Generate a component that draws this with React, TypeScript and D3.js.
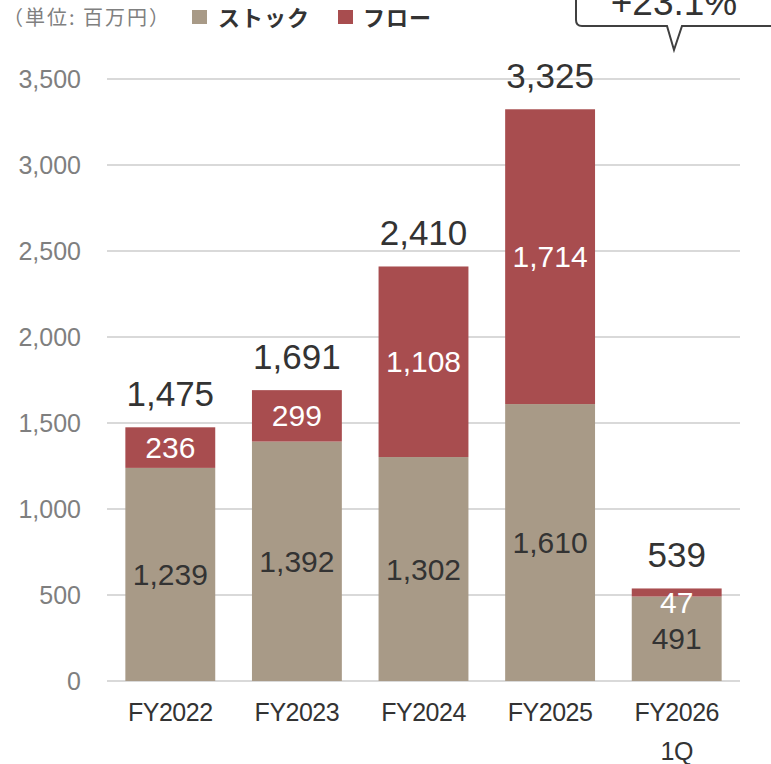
import React from "react";
import * as d3 from "d3";

const categories = ["FY2022", "FY2023", "FY2024", "FY2025", "FY2026\n1Q"];
const stockValues = [1239, 1392, 1302, 1610, 491];
const flowValues = [236, 299, 1108, 1714, 47];
const totalLabels = [1475, 1691, 2410, 3325, 539];
const yTicks = [0, 500, 1000, 1500, 2000, 2500, 3000, 3500];
const calloutText = "+23.1%";

const STOCK = "#A89A87";
const FLOW = "#A84D4F";
const NUM_FONT = "'Liberation Sans', Arial, sans-serif";
const JP_FONT = "'Noto Sans CJK JP', 'Noto Sans', sans-serif";

export default function App() {
  const W = 771, H = 764;
  const x = d3.scaleBand<string>().domain(categories).range([107, 740]).paddingInner(0.29).paddingOuter(0.145);
  const y = d3.scaleLinear().domain([0, 3500]).range([681, 79]);
  const fmt = d3.format(",");
  const bw = x.bandwidth();

  return (
    <svg width={W} height={H} style={{ position: "absolute", left: 0, top: 0, background: "#fff" }}>
      {/* callout */}
      <path
        d={`M576,-10 L576,20 Q576,26 582,26 L667,26 L674,50 L682,26 L780,26`}
        fill="#fff" stroke="#404040" strokeWidth={2} strokeLinejoin="miter"
      />
      <text x={674} y={15} textAnchor="middle" fontFamily={NUM_FONT} fontSize={37} fill="#333">{calloutText}</text>

      {/* legend */}
      <text x={3} y={25} fontFamily={JP_FONT} fontSize={20} fill="#808080" letterSpacing={2}>（単位: 百万円）</text>
      <rect x={192} y={10} width={15} height={14} fill={STOCK} />
      <text x={218} y={26} fontFamily={JP_FONT} fontSize={22} fontWeight="bold" fill="#333" letterSpacing={1}>ストック</text>
      <rect x={338} y={10} width={15} height={14} fill={FLOW} />
      <text x={363} y={26} fontFamily={JP_FONT} fontSize={22} fontWeight="bold" fill="#333" letterSpacing={1}>フロー</text>

      {/* grid + y ticks */}
      {yTicks.map((t) => (
        <g key={t}>
          <line x1={107} x2={740} y1={y(t)} y2={y(t)} stroke="#d9d9d9" strokeWidth={2} />
          <text x={81} y={y(t)} dy="0.35em" textAnchor="end" fontFamily={NUM_FONT} fontSize={25} fill="#7f7f7f">{fmt(t)}</text>
        </g>
      ))}

      {/* bars */}
      {categories.map((c, i) => {
        const x0 = x(c)!;
        const cx = x0 + bw / 2;
        const s = stockValues[i];
        const f = flowValues[i];
        const ySTop = y(s);
        const yFTop = y(s + f);
        const stockMid = (y(0) + ySTop) / 2;
        const flowMid = Math.max((ySTop + yFTop) / 2, yFTop + 14);
        return (
          <g key={c}>
            <rect x={x0} y={ySTop} width={bw} height={y(0) - ySTop} fill={STOCK} />
            <rect x={x0} y={yFTop} width={bw} height={ySTop - yFTop} fill={FLOW} />
            <text x={cx} y={stockMid} dy="0.35em" textAnchor="middle" fontFamily={NUM_FONT} fontSize={30} fill="#333">{fmt(s)}</text>
            <text x={cx} y={flowMid} dy="0.35em" textAnchor="middle" fontFamily={NUM_FONT} fontSize={30} fill="#fff">{fmt(f)}</text>
            <text x={cx} y={yFTop - 21} textAnchor="middle" fontFamily={NUM_FONT} fontSize={35} fill="#333">{fmt(totalLabels[i])}</text>
            {c.split("\n").map((line, j) => (
              <text key={j} x={cx} y={721 + j * 39} textAnchor="middle" fontFamily={NUM_FONT} fontSize={25} fill="#333" letterSpacing={-0.5}>{line}</text>
            ))}
          </g>
        );
      })}
    </svg>
  );
}
